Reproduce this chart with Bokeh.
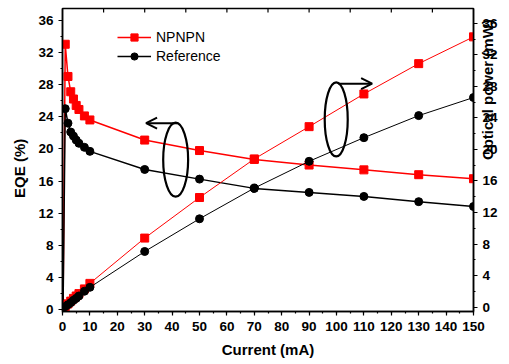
from math import pi
from bokeh.plotting import figure
from bokeh.models import (Range1d, LinearAxis, SingleIntervalTicker,
                          Legend, LegendItem, Arrow, OpenHead)
from bokeh.embed import file_html
from bokeh.resources import INLINE

# ---------------- data ----------------
current = [0.2, 1, 2, 3, 4, 5, 6, 8, 10, 30, 50, 70, 90, 110, 130, 150]
eqe_npnpn = [0.0, 33.0, 29.0, 27.1, 26.2, 25.4, 24.9, 24.1, 23.6, 21.1, 19.8, 18.7, 18.0, 17.4, 16.8, 16.3]
eqe_ref = [0.0, 25.0, 23.2, 22.1, 21.6, 21.1, 20.7, 20.2, 19.7, 17.45, 16.25, 15.1, 14.6, 14.1, 13.45, 12.85]
power_npnpn = [0.0, 0.05, 0.4, 0.75, 1.1, 1.4, 1.7, 2.3, 3.0, 8.75, 13.9, 18.8, 22.9, 27.05, 30.9, 34.3]
power_ref = [0.0, 0.05, 0.3, 0.55, 0.85, 1.1, 1.4, 2.0, 2.5, 7.05, 11.2, 15.1, 18.5, 21.5, 24.3, 26.6]
top_ticks = [15, 30, 45, 60, 75, 90, 105, 120, 135]

FONT = "Liberation Sans"
RED = "#ff0000"
Y_LO, Y_HI = -0.19, 37.44

p = figure(width=509, height=364, output_backend="svg", toolbar_location=None,
           x_range=Range1d(0, 150), y_range=Range1d(Y_LO, Y_HI),
           min_border_left=62, min_border_right=36, min_border_top=8, min_border_bottom=53)
p.extra_y_ranges = {"power": Range1d(-0.57, 37.9)}
p.xgrid.visible = False
p.ygrid.visible = False
p.outline_line_color = "black"
p.outline_line_width = 1.5
p.background_fill_color = "white"
p.border_fill_color = "white"

def style_axis(ax):
    ax.axis_line_width = 1.5
    ax.axis_line_color = "black"
    ax.major_tick_line_width = 1.2
    ax.minor_tick_line_width = 1.2
    ax.major_tick_in = 0
    ax.major_tick_out = 4
    ax.minor_tick_in = 0
    ax.minor_tick_out = 2
    ax.major_label_text_font = FONT
    ax.major_label_text_font_style = "bold"
    ax.major_label_text_font_size = "13.5px"
    ax.major_label_text_color = "black"
    ax.axis_label_text_font = FONT
    ax.axis_label_text_font_style = "bold"
    ax.axis_label_text_font_size = "15px"
    ax.axis_label_text_color = "black"

xa = p.xaxis[0]
xa.ticker = SingleIntervalTicker(interval=10, num_minor_ticks=2)
xa.axis_label = "Current (mA)"
style_axis(xa)
xa.major_label_standoff = 6
xa.axis_label_standoff = 7

ya = p.yaxis[0]
ya.ticker = SingleIntervalTicker(interval=4, num_minor_ticks=2)
ya.axis_label = "EQE (%)\u00a0\u00a0\u00a0\u00a0"
style_axis(ya)
ya.axis_label_standoff = 7

ra = LinearAxis(y_range_name="power", ticker=SingleIntervalTicker(interval=4, num_minor_ticks=2))
style_axis(ra)
ra.axis_label = "Optical power (mW)"
ra.axis_label_orientation = pi / 2
ra.axis_label_standoff = -13
p.add_layout(ra, "right")

# inward ticks along the top edge
p.segment(x0=top_ticks, y0=[Y_HI] * len(top_ticks), x1=top_ticks,
          y1=[Y_HI - 0.5] * len(top_ticks), line_color="black", line_width=1.2)

# EQE curves (left axis)
l1 = p.line(current, eqe_npnpn, line_color=RED, line_width=1.5)
s1 = p.scatter(current[1:], eqe_npnpn[1:], marker="square", size=8, fill_color=RED, line_color=RED)
l2 = p.line(current, eqe_ref, line_color="black", line_width=1.5)
s2 = p.scatter(current[1:], eqe_ref[1:], marker="circle", size=8, fill_color="black", line_color="black")

# Optical power curves (right axis)
p.line(current, power_npnpn, line_color=RED, line_width=1, y_range_name="power")
p.scatter(current, power_npnpn, marker="square", size=8, fill_color=RED, line_color=RED, y_range_name="power")
p.line(current, power_ref, line_color="black", line_width=1, y_range_name="power")
p.scatter(current, power_ref, marker="circle", size=8, fill_color="black", line_color="black", y_range_name="power")

# ellipses and arrows marking which axis each set belongs to
p.ellipse(x=[41.3, 99.9], y=[18.66, 23.67], width=[9.1, 8.4], height=[9.2, 9.2],
          fill_color=None, line_color="black", line_width=2.2)
p.add_layout(Arrow(end=OpenHead(size=11, line_width=2), x_start=41.8, y_start=23.2,
                   x_end=30.5, y_end=23.2, line_width=2))
p.add_layout(Arrow(end=OpenHead(size=11, line_width=2), x_start=100.7, y_start=28.1,
                   x_end=113.0, y_end=28.1, line_width=2))

legend = Legend(items=[LegendItem(label="NPNPN", renderers=[l1, s1]),
                       LegendItem(label="Reference", renderers=[l2, s2])],
                location=(55, 246), padding=0, spacing=1, glyph_width=34, glyph_height=18,
                label_height=18, label_standoff=5, border_line_color=None,
                background_fill_alpha=0, label_text_font=FONT, label_text_font_size="14px",
                label_text_color="black")
p.add_layout(legend)

open("out.html", "w").write(file_html(p, INLINE))
